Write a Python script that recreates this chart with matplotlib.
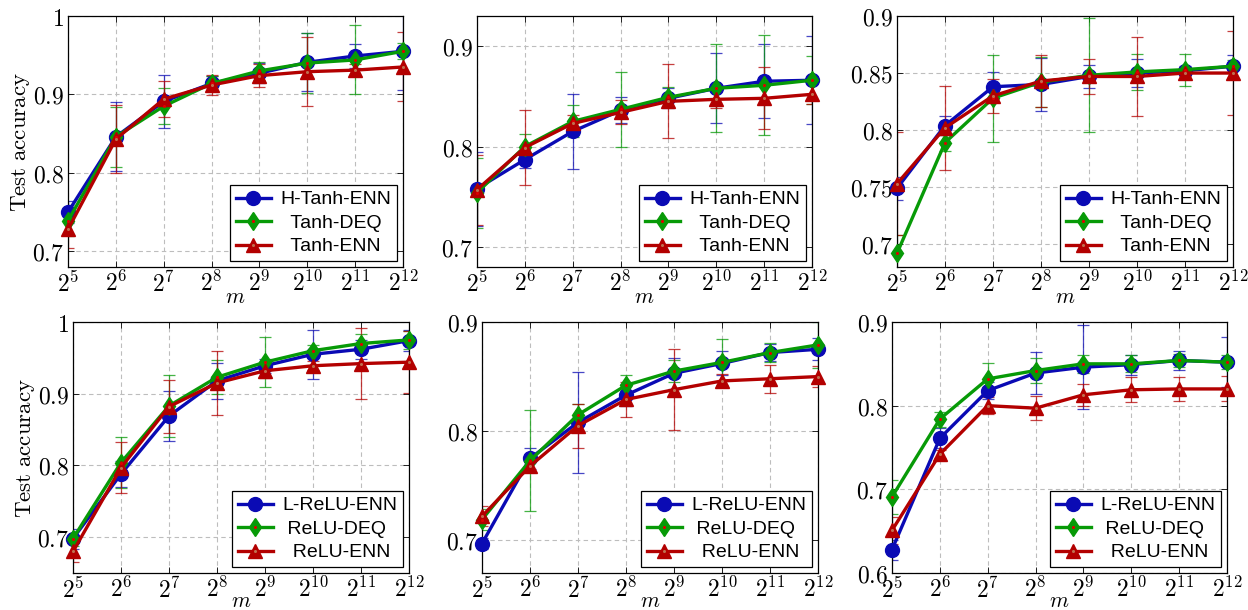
import math
import matplotlib
matplotlib.use("Agg")
import matplotlib.pyplot as plt
from matplotlib.ticker import FixedLocator, FuncFormatter, NullLocator

plt.rcParams["mathtext.fontset"] = "cm"

# x axis: m = 2^5 ... 2^12
m_exp = [5, 6, 7, 8, 9, 10, 11, 12]
m = [2 ** k for k in m_exp]

# --- Tanh, panel 1 ---
tanh1_henn = [0.750, 0.846, 0.891, 0.914, 0.927, 0.941, 0.949, 0.955]
tanh1_henn_err = [0.014, 0.044, 0.034, 0.010, 0.013, 0.037, 0.015, 0.049]
tanh1_deq = [0.739, 0.846, 0.885, 0.914, 0.930, 0.940, 0.944, 0.955]
tanh1_deq_err = [0.020, 0.038, 0.023, 0.010, 0.011, 0.038, 0.044, 0.010]
tanh1_enn = [0.728, 0.843, 0.894, 0.912, 0.924, 0.929, 0.931, 0.935]
tanh1_enn_err = [0.024, 0.043, 0.023, 0.013, 0.015, 0.044, 0.008, 0.044]

# --- Tanh, panel 2 ---
tanh2_henn = [0.758, 0.787, 0.815, 0.836, 0.848, 0.858, 0.865, 0.866]
tanh2_henn_err = [0.037, 0.008, 0.037, 0.013, 0.010, 0.035, 0.037, 0.044]
tanh2_deq = [0.754, 0.800, 0.825, 0.837, 0.849, 0.858, 0.861, 0.866]
tanh2_deq_err = [0.035, 0.012, 0.016, 0.037, 0.010, 0.044, 0.050, 0.024]
tanh2_enn = [0.757, 0.799, 0.823, 0.834, 0.845, 0.847, 0.848, 0.852]
tanh2_enn_err = [0.035, 0.037, 0.008, 0.012, 0.037, 0.009, 0.031, 0.010]

# --- Tanh, panel 3 ---
tanh3_henn = [0.749, 0.804, 0.838, 0.840, 0.847, 0.850, 0.852, 0.856]
tanh3_henn_err = [0.010, 0.008, 0.013, 0.023, 0.010, 0.012, 0.004, 0.010]
tanh3_deq = [0.692, 0.789, 0.828, 0.842, 0.848, 0.851, 0.853, 0.856]
tanh3_deq_err = [0.016, 0.007, 0.038, 0.022, 0.050, 0.016, 0.014, 0.005]
tanh3_enn = [0.753, 0.802, 0.830, 0.843, 0.847, 0.847, 0.850, 0.850]
tanh3_enn_err = [0.045, 0.037, 0.015, 0.023, 0.015, 0.035, 0.003, 0.037]

# --- ReLU, panel 1 ---
relu1_lenn = [0.698, 0.788, 0.869, 0.918, 0.939, 0.955, 0.962, 0.974]
relu1_lenn_err = [0.014, 0.018, 0.035, 0.025, 0.010, 0.034, 0.013, 0.015]
relu1_deq = [0.698, 0.804, 0.883, 0.923, 0.944, 0.960, 0.970, 0.975]
relu1_deq_err = [0.010, 0.036, 0.043, 0.024, 0.035, 0.008, 0.013, 0.012]
relu1_enn = [0.680, 0.797, 0.882, 0.915, 0.932, 0.939, 0.942, 0.944]
relu1_enn_err = [0.015, 0.036, 0.037, 0.045, 0.010, 0.006, 0.050, 0.043]

# --- ReLU, panel 2 ---
relu2_lenn = [0.697, 0.775, 0.808, 0.833, 0.853, 0.862, 0.872, 0.875]
relu2_lenn_err = [0.005, 0.010, 0.046, 0.010, 0.014, 0.011, 0.008, 0.010]
relu2_deq = [0.719, 0.773, 0.815, 0.842, 0.855, 0.863, 0.872, 0.879]
relu2_deq_err = [0.010, 0.046, 0.010, 0.009, 0.010, 0.021, 0.009, 0.021]
relu2_enn = [0.722, 0.768, 0.805, 0.829, 0.838, 0.846, 0.848, 0.850]
relu2_enn_err = [0.009, 0.005, 0.020, 0.016, 0.037, 0.006, 0.013, 0.010]

# --- ReLU, panel 3 ---
relu3_lenn = [0.628, 0.761, 0.818, 0.839, 0.846, 0.849, 0.854, 0.852]
relu3_lenn_err = [0.012, 0.012, 0.010, 0.025, 0.050, 0.012, 0.011, 0.030]
relu3_deq = [0.691, 0.784, 0.832, 0.842, 0.850, 0.850, 0.854, 0.852]
relu3_deq_err = [0.020, 0.009, 0.019, 0.015, 0.011, 0.010, 0.008, 0.008]
relu3_enn = [0.651, 0.742, 0.800, 0.797, 0.813, 0.819, 0.820, 0.820]
relu3_enn_err = [0.016, 0.005, 0.010, 0.014, 0.013, 0.015, 0.014, 0.015]

tanh_labels = ["H-Tanh-ENN", "  Tanh-DEQ", "  Tanh-ENN"]
relu_labels = ["L-ReLU-ENN", " ReLU-DEQ", "  ReLU-ENN"]

blue = "#0a0ab4"
green = "#079a07"
red = "#b30000"

panels = [
    dict(series=[(tanh1_henn, tanh1_henn_err), (tanh1_deq, tanh1_deq_err), (tanh1_enn, tanh1_enn_err)],
         labels=tanh_labels, ylim=(0.68, 1.0), yticks=[0.7, 0.8, 0.9, 1.0],
         rect=[68, 16, 335, 251], ylabel=True, mpos=-0.08),
    dict(series=[(tanh2_henn, tanh2_henn_err), (tanh2_deq, tanh2_deq_err), (tanh2_enn, tanh2_enn_err)],
         labels=tanh_labels, ylim=(0.68, 0.93), yticks=[0.7, 0.8, 0.9],
         rect=[477, 16, 335, 251], ylabel=False, mpos=-0.08),
    dict(series=[(tanh3_henn, tanh3_henn_err), (tanh3_deq, tanh3_deq_err), (tanh3_enn, tanh3_enn_err)],
         labels=tanh_labels, ylim=(0.68, 0.9), yticks=[0.7, 0.75, 0.8, 0.85, 0.9],
         rect=[897, 16, 336, 251], ylabel=False, mpos=-0.08),
    dict(series=[(relu1_lenn, relu1_lenn_err), (relu1_deq, relu1_deq_err), (relu1_enn, relu1_enn_err)],
         labels=relu_labels, ylim=(0.65, 1.0), yticks=[0.7, 0.8, 0.9, 1.0],
         rect=[73, 322, 336, 251], ylabel=True, mpos=-0.072),
    dict(series=[(relu2_lenn, relu2_lenn_err), (relu2_deq, relu2_deq_err), (relu2_enn, relu2_enn_err)],
         labels=relu_labels, ylim=(0.67, 0.9), yticks=[0.7, 0.8, 0.9],
         rect=[482, 322, 336, 251], ylabel=False, mpos=-0.072),
    dict(series=[(relu3_lenn, relu3_lenn_err), (relu3_deq, relu3_deq_err), (relu3_enn, relu3_enn_err)],
         labels=relu_labels, ylim=(0.6, 0.9), yticks=[0.6, 0.7, 0.8, 0.9],
         rect=[892, 322, 335, 251], ylabel=False, mpos=-0.072),
]

W, H = 1248, 610
fig = plt.figure(figsize=(W / 100, H / 100), dpi=100)

styles = [
    dict(color=blue, marker="o", ms=10, dot=None),
    dict(color=green, marker="d", ms=9.5, dot="#e00000"),
    dict(color=red, marker="^", ms=10, dot="#c07050"),
]

for p in panels:
    x0, y0, w, h = p["rect"]
    ax = fig.add_axes([x0 / W, 1 - (y0 + h) / H, w / W, h / H])
    handles = []
    for (vals, err), st in zip(p["series"], styles):
        ax.errorbar(m, vals, yerr=err, fmt="none", ecolor=st["color"], elinewidth=0.9,
                    capsize=4, capthick=0.9, alpha=0.75, zorder=2)
        ln, = ax.plot(m, vals, color=st["color"], lw=2.4, marker=st["marker"], ms=st["ms"],
                      mfc=st["color"], mec=st["color"], clip_on=False, zorder=3)
        if st["dot"] is not None:
            dt, = ax.plot(m, vals, ls="none", marker="o", ms=2.2, mfc=st["dot"], mec="none",
                          clip_on=False, zorder=4)
            handles.append((ln, dt))
        else:
            handles.append(ln)

    ax.set_xscale("log", base=2)
    ax.set_xlim(m[0], m[-1])
    ax.set_ylim(*p["ylim"])
    ax.xaxis.set_major_locator(FixedLocator(m))
    ax.xaxis.set_minor_locator(NullLocator())
    ax.xaxis.set_major_formatter(FuncFormatter(lambda v, pos: r"$2^{%d}$" % round(math.log2(v))))
    ax.yaxis.set_major_locator(FixedLocator(p["yticks"]))
    ax.yaxis.set_major_formatter(FuncFormatter(lambda v, pos: r"$%g$" % v))
    ax.tick_params(direction="in", top=True, right=True, length=4, width=0.6,
                   labelsize=17, pad=3)
    ax.grid(True, ls=(0, (4, 3)), color="#bdbdbd", lw=0.8)
    for s in ax.spines.values():
        s.set_linewidth(0.9)
    ax.set_xlabel(r"$m$", fontsize=15.5)
    ax.xaxis.set_label_coords(0.5, p["mpos"])
    if p["ylabel"]:
        ax.set_ylabel(r"$\mathrm{Test\ accuracy}$", fontsize=16.5)
        ax.yaxis.set_label_coords(-36 / w, 0.5)

    leg = ax.legend(handles, p["labels"], loc="lower right", fancybox=False, framealpha=1,
                    edgecolor="black", prop={"family": "Liberation Sans", "size": 14},
                    handlelength=1.8, handletextpad=0.5, labelspacing=0.3,
                    borderaxespad=0.3, borderpad=0.3)
    leg.get_frame().set_linewidth(0.9)
    leg.set_zorder(10)

fig.savefig("out.png", dpi=100)
